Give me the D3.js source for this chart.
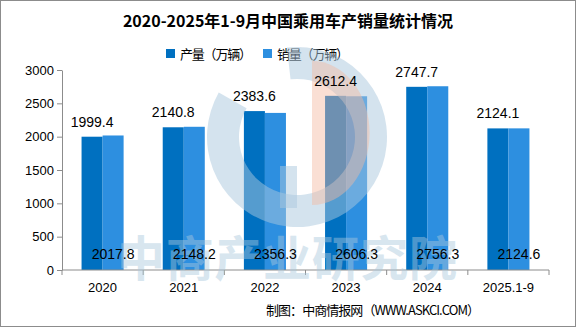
<!DOCTYPE html>
<html lang="zh">
<head>
<meta charset="UTF-8">
<title>2020-2025年1-9月中国乘用车产销量统计情况</title>
<script src="https://cdn.jsdelivr.net/npm/d3@7"></script>
<style>
  body { margin: 0; background: #fff; }
  svg { display: block; }
  text { font-family: "Liberation Sans", "Noto Sans CJK SC", sans-serif; }
  .cjk { font-family: "Noto Sans CJK SC", sans-serif; }
</style>
</head>
<body>
<svg id="chart"></svg>
<script>
  // data
  var categories = ["2020", "2021", "2022", "2023", "2024", "2025.1-9"];
  var seriesNames = ["产量（万辆）", "销量（万辆）"];
  var production = [1999.4, 2140.8, 2383.6, 2612.4, 2747.7, 2124.1];
  var sales = [2017.8, 2148.2, 2356.3, 2606.3, 2756.3, 2124.6];
  var yTicks = [0, 500, 1000, 1500, 2000, 2500, 3000];

  var width = 576, height = 327;
  var colors = ["#0070c0", "#2d8fe0"];

  var svg = d3.select("#chart").attr("width", width).attr("height", height);

  var x = d3.scaleBand().domain(categories).range([62, 549]);
  var x1 = d3.scaleBand().domain([0, 1]).range([0, x.bandwidth()]).paddingOuter(0.93);
  var y = d3.scaleLinear().domain([0, 3000]).range([270, 70]);

  // title
  svg.append("text").attr("class", "cjk")
    .attr("x", 288).attr("y", 27)
    .attr("text-anchor", "middle")
    .attr("font-size", 16).attr("font-weight", "bold")
    .text("2020-2025年1-9月中国乘用车产销量统计情况");

  // legend
  var legendX = [166, 263];
  seriesNames.forEach(function (name, i) {
    svg.append("rect").attr("x", legendX[i]).attr("y", 49).attr("width", 9).attr("height", 9).attr("fill", colors[i]);
    svg.append("text").attr("class", "cjk").attr("x", legendX[i] + 14).attr("y", 58.5)
      .attr("font-size", 13).attr("textLength", 72).text(name);
  });

  // y axis
  var yAxis = svg.append("g").attr("transform", "translate(62,0)")
    .call(d3.axisLeft(y).tickValues(yTicks).tickFormat(d3.format("d"))
      .tickSize(5).tickSizeOuter(0).tickPadding(3));
  yAxis.selectAll("path, line").attr("stroke", "#8c8c8c");
  yAxis.selectAll("text").attr("font-size", 13).attr("fill", "#000")
    .style("font-family", "Liberation Sans");

  // bars
  var data = [production, sales];
  data.forEach(function (vals, s) {
    svg.append("g").selectAll("rect")
      .data(vals)
      .enter()
      .append("rect")
      .attr("x", function (d, i) { return x(categories[i]) + x1(s); })
      .attr("y", function (d) { return y(d); })
      .attr("width", x1.bandwidth())
      .attr("height", function (d) { return y(0) - y(d); })
      .attr("fill", colors[s]);
  });

  // x axis
  var xAxis = svg.append("g").attr("transform", "translate(0,270)");
  xAxis.append("line").attr("x1", 62).attr("x2", 549).attr("y1", 0).attr("y2", 0).attr("stroke", "#8c8c8c");
  var bounds = categories.map(function (c) { return x(c); }).concat([x.range()[1]]);
  xAxis.selectAll("line.tick")
    .data(bounds)
    .enter()
    .append("line")
    .attr("class", "tick")
    .attr("x1", function (d) { return d; })
    .attr("x2", function (d) { return d; })
    .attr("y1", 0).attr("y2", 5)
    .attr("stroke", "#8c8c8c");
  xAxis.selectAll("text")
    .data(categories)
    .enter()
    .append("text")
    .attr("x", function (d) { return x(d) + x.bandwidth() / 2; })
    .attr("y", 22)
    .attr("text-anchor", "middle")
    .attr("font-size", 13)
    .text(function (d) { return d; });

  // watermark (drawn over the bars, faint)
  var wm = svg.append("g").attr("pointer-events", "none");
  var ring = d3.arc().innerRadius(58).outerRadius(90)
    .startAngle(Math.PI * 0.02).endAngle(Math.PI * 1.72);
  wm.append("path").attr("d", ring()).attr("transform", "translate(297,137) rotate(-10)")
    .attr("fill", "#a9c8dd").attr("opacity", 0.5);
  wm.append("rect").attr("x", 280).attr("y", 166).attr("width", 17).attr("height", 42)
    .attr("fill", "#a9c8dd").attr("opacity", 0.5);
  var half = d3.arc().innerRadius(0).outerRadius(72)
    .startAngle(0).endAngle(Math.PI);
  wm.append("path").attr("d", half()).attr("transform", "translate(312,133) scale(0.8,1)")
    .attr("fill", "#f4b99f").attr("opacity", 0.45);
  wm.append("text").attr("class", "cjk")
    .attr("x", 117).attr("y", 276)
    .attr("font-size", 48).attr("font-weight", "bold")
    .attr("fill", "#a9c8dd").attr("opacity", 0.45)
    .attr("textLength", 340)
    .text("中商产业研究院");

  // value labels
  svg.append("g").selectAll("text")
    .data(production)
    .enter()
    .append("text")
    .attr("x", function (d, i) { return x(categories[i]) + x1(0) + x1.bandwidth() / 2; })
    .attr("y", function (d) { return y(d) - 10; })
    .attr("text-anchor", "middle")
    .attr("font-size", 14)
    .text(function (d) { return d.toFixed(1); });

  svg.append("g").selectAll("text")
    .data(sales)
    .enter()
    .append("text")
    .attr("x", function (d, i) { return x(categories[i]) + x1(1) + x1.bandwidth() / 2; })
    .attr("y", y(0) - 11)
    .attr("text-anchor", "middle")
    .attr("font-size", 14)
    .text(function (d) { return d.toFixed(1); });

  // source
  svg.append("text").attr("class", "cjk")
    .attr("x", 266).attr("y", 315)
    .attr("font-size", 13)
    .attr("textLength", 214)
    .text("制图：中商情报网（WWW.ASKCI.COM）");

  // frame
  svg.append("rect").attr("x", 0.5).attr("y", 0.5).attr("width", width - 1).attr("height", height - 1)
    .attr("fill", "none").attr("stroke", "#8c8c8c");
</script>
</body>
</html>
